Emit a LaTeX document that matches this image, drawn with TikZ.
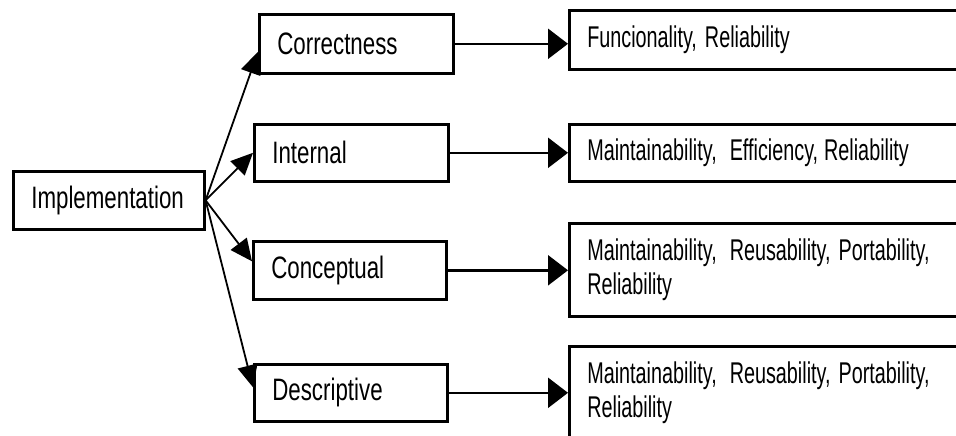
\documentclass[tikz,border=0pt]{standalone}
\usepackage{fontspec}
\setmainfont{Liberation Sans}
\newfontfamily\leftfont{Liberation Sans}[FakeStretch=0.72]
\newfontfamily\rightfont{Liberation Sans}[FakeStretch=0.66]
\usetikzlibrary{arrows.meta}
\begin{document}
\begin{tikzpicture}[x=1pt,y=-1pt,
  lbox/.style={draw, line width=2.6pt, rectangle, anchor=north west, inner xsep=18pt, inner ysep=0pt,
               align=left, font={\leftfont\fontsize{31}{34}\selectfont}},
  rbox/.style={draw, line width=2.6pt, rectangle, anchor=north west, inner xsep=18pt, inner ysep=0pt,
               align=left, text width=396pt, font={\rightfont\fontsize{30}{34}\selectfont}},
  lconn/.style={line width=1.8pt, -{Triangle[length=22pt,width=20pt]}},
  rconn/.style={line width=2.4pt, -{Triangle[length=20pt,width=30pt]}}
]
\path[use as bounding box] (0,0) rectangle (956,436);
\clip (0,0) rectangle (956,436);

\node[lbox, text width=155pt, minimum height=58pt] (impl) at (12,170) {Implementation};

\node[lbox, text width=158pt, minimum height=59pt] (corr) at (258,13) {Correctness};
\node[lbox, text width=158pt, minimum height=57pt] (intl) at (253,123) {Internal};
\node[lbox, text width=157pt, minimum height=58pt] (conc) at (252,240) {Conceptual};
\node[lbox, text width=157pt, minimum height=57pt] (desc) at (253,363) {Descriptive};

\node[rbox, minimum height=59pt] (r1) at (568,9) {Funcionality,\hspace{-2pt} Reliability};
\node[rbox, minimum height=57pt] (r2) at (568,123) {Maintainability,\hspace{3pt} Efficiency,\hspace{-4pt} Reliability};
\node[rbox, minimum height=93pt] (r3) at (568,222) {Maintainability,\hspace{3pt} Reusability,\hspace{-2pt} Portability,\\Reliability};
\node[rbox, minimum height=93pt] (r4) at (568,345) {Maintainability,\hspace{3pt} Reusability,\hspace{-2pt} Portability,\\Reliability};

\draw[lconn] (impl.east) -- ([yshift=-8pt]corr.west);
\draw[lconn] (impl.east) -- (intl.west);
\draw[lconn] (impl.east) -- ([yshift=9pt]conc.west);
\draw[lconn] (impl.east) -- ([yshift=5.5pt]desc.west);

\draw[rconn] (corr.east) -- (corr.east -| r1.west);
\draw[rconn] (intl.east) -- (intl.east -| r2.west);
\draw[rconn] (conc.east) -- (conc.east -| r3.west);
\draw[rconn] (desc.east) -- (desc.east -| r4.west);
\end{tikzpicture}
\end{document}
